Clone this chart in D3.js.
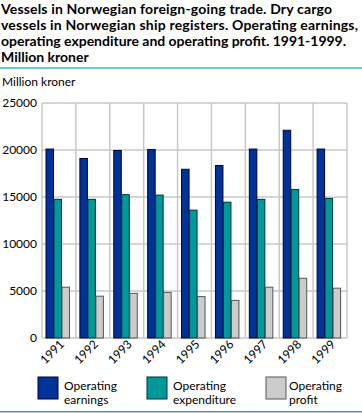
<!DOCTYPE html>
<html>
<head>
<meta charset="utf-8">
<script src="https://cdn.jsdelivr.net/npm/d3@7"></script>
<style>
  body { margin: 0; background: #fff; }
  svg { display: block; font-family: Lato, "Open Sans", sans-serif; }
</style>
</head>
<body>
<div id="chart"></div>
<script>
// --- DATA ---
const years = ["1991", "1992", "1993", "1994", "1995", "1996", "1997", "1998", "1999"];
const earnings = [20100, 19100, 19950, 20050, 17950, 18350, 20100, 22100, 20100];
const expenditure = [14750, 14750, 15250, 15200, 13600, 14450, 14750, 15800, 14850];
const profit = [5400, 4450, 4750, 4850, 4400, 4000, 5400, 6350, 5300];
const yTicks = [0, 5000, 10000, 15000, 20000, 25000];
const seriesNames = [["Operating", "earnings"], ["Operating", "expenditure"], ["Operating", "profit"]];

const W = 362, H = 413;
const svg = d3.select('#chart').append('svg')
    .attr('width', W).attr('height', H);

// Title
const titleLines = [
    "Vessels in Norwegian foreign-going trade. Dry cargo",
    "vessels in Norwegian ship registers. Operating earnings,",
    "operating expenditure and operating profit. 1991-1999.",
    "Million kroner"
];
svg.append('g').selectAll('text')
    .data(titleLines).enter().append('text')
    .attr('x', 1).attr('y', (d, i) => 14 + i * 16)
    .attr('font-size', 14).attr('font-weight', 'bold').attr('fill', '#000')
    .attr('textLength', (d, i) => [331, 357, 345, null][i])
    .text(d => d);

svg.append('rect').attr('x', 0).attr('y', 67).attr('width', W).attr('height', 2).attr('fill', '#66cccc');
svg.append('rect').attr('x', 0).attr('y', 411).attr('width', W).attr('height', 1.5).attr('fill', '#33aaaa');

svg.append('text').attr('x', 2).attr('y', 86).attr('font-size', 12).attr('fill', '#000').text('Million kroner');

// --- PLOT ---
const m = { left: 42, right: 347, top: 103, bottom: 338 };
const x = d3.scaleBand().domain(years).range([m.left, m.right]);
const y = d3.scaleLinear().domain([0, 25000]).range([m.bottom, m.top]);
const inner = d3.scaleBand().domain([0, 1, 2]).range([0, 24]);
const groupOff = 3.5;

const grid = svg.append('g').attr('stroke', '#c8c8c8').attr('stroke-width', 1.5);
grid.selectAll('line.h').data(yTicks).enter().append('line')
    .attr('x1', m.left).attr('x2', m.right)
    .attr('y1', d => y(d)).attr('y2', d => y(d));
grid.selectAll('line.v').data(years.concat(['end'])).enter().append('line')
    .attr('x1', (d, i) => m.left + i * x.bandwidth()).attr('x2', (d, i) => m.left + i * x.bandwidth())
    .attr('y1', m.top).attr('y2', m.bottom);

// Y labels
svg.append('g').selectAll('text').data(yTicks).enter().append('text')
    .attr('x', 37).attr('y', d => y(d) + 4)
    .attr('text-anchor', 'end').attr('font-size', 12).attr('fill', '#000')
    .text(d => d);

const series = [
    { values: earnings, fill: '#003399', stroke: '#000033' },
    { values: expenditure, fill: '#009999', stroke: '#003333' },
    { values: profit, fill: '#cccccc', stroke: '#555555' }
];
series.forEach((s, si) => {
    svg.append('g').selectAll('rect').data(s.values).enter().append('rect')
        .attr('x', (d, i) => x(years[i]) + groupOff + inner(si) + 0.5)
        .attr('y', d => y(d))
        .attr('width', inner.bandwidth() - 0.5)
        .attr('height', d => m.bottom - y(d))
        .attr('fill', s.fill).attr('stroke', s.stroke).attr('stroke-width', 1);
});

// X labels rotated
svg.append('g').selectAll('text').data(years).enter().append('text')
    .attr('transform', d => `translate(${x(d) + x.bandwidth() / 2 + 6},${m.bottom + 7}) rotate(-45)`)
    .attr('text-anchor', 'end').attr('font-size', 12).attr('fill', '#000')
    .text(d => d);

// Legend
const legX = [38, 147, 266];
const leg = svg.append('g');
series.forEach((s, i) => {
    leg.append('rect').attr('x', legX[i]).attr('y', 377).attr('width', 20).attr('height', 22)
        .attr('fill', s.fill).attr('stroke', s.stroke).attr('stroke-width', 1);
    leg.append('text').attr('x', legX[i] + (i === 2 ? 23 : 26)).attr('y', 390)
        .attr('font-size', 12).attr('fill', '#000').text(seriesNames[i][0]);
    leg.append('text').attr('x', legX[i] + (i === 2 ? 23 : 26)).attr('y', 404)
        .attr('font-size', 12).attr('fill', '#000').text(seriesNames[i][1]);
});
</script>
</body>
</html>
